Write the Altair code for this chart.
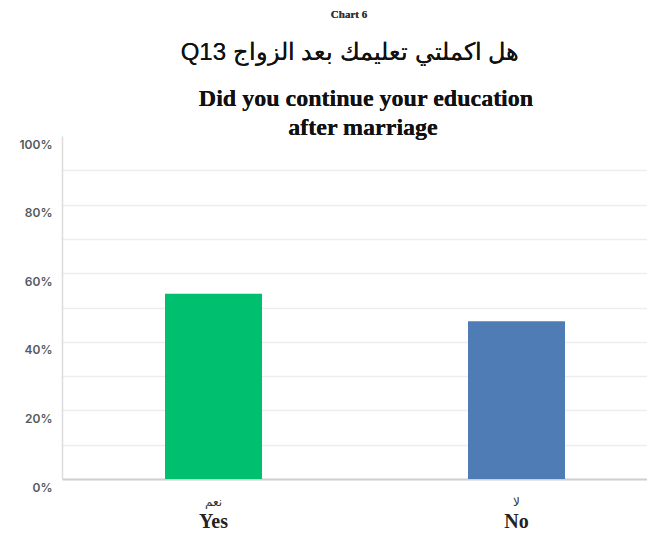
import altair as alt
import pandas as pd

categories = ["Yes", "No"]
arabic_labels = ["نعم", "لا"]
values = [0.54, 0.46]
colors = ["#00BF6F", "#507CB6"]
y_ticks = [0, 0.1, 0.2, 0.3, 0.4, 0.5, 0.6, 0.7, 0.8, 0.9, 1.0]

chart_label = "Chart 6"
title_ar = "Q13 هل اكملتي تعليمك بعد الزواج"
title_en = ["Did you continue your education", "after marriage"]

df = pd.DataFrame({"cat": categories, "ar": arabic_labels, "val": values, "color": colors})

W, H = 580, 343

x = alt.X("cat:N", sort=categories,
          scale=alt.Scale(range=[0, 606], paddingInner=0, paddingOuter=0),
          axis=alt.Axis(title=None, labelAngle=0, ticks=False, labelPadding=32,
                        labelFont="Liberation Serif", labelFontWeight="bold",
                        labelFontSize=20, labelColor="#222222",
                        domainColor="#cfcfcf", domainWidth=2, grid=False))

bars = alt.Chart(df).mark_bar(size=97).encode(
    x=x,
    y=alt.Y("val:Q", scale=alt.Scale(domain=[0, 1]),
            axis=alt.Axis(title=None, values=y_ticks, format=".0%",
                          labelExpr="round(datum.value*100) % 20 == 0 ? datum.label : ''",
                          ticks=False, labelPadding=10, labelOffset=8,
                          labelFont="Inter", labelFontWeight=600, labelFontSize=12,
                          labelColor="#555a61",
                          domainColor="#dcdcdc", domainWidth=1.5,
                          gridColor={"condition": {"test": "datum.value >= 1", "value": "transparent"},
                                     "value": "#ededed"},
                          gridWidth=1.5)),
    color=alt.Color("color:N", scale=None),
)

ar_text = alt.Chart(df).mark_text(font="DejaVu Sans", fontSize=12, color="#333333",
                                  baseline="middle").encode(
    x=alt.X("cat:N", sort=categories),
    y=alt.value(H + 23),
    text="ar:N",
)

t0 = alt.Chart(df).mark_text(font="Liberation Serif", fontWeight="bold", fontSize=11,
                             color="#333333", baseline="alphabetic").encode(
    x=alt.value(287), y=alt.value(-118), text=alt.value(chart_label))
t1 = alt.Chart(df).mark_text(font="Liberation Sans", fontSize=24, color="#111111",
                             baseline="alphabetic").encode(
    x=alt.value(288), y=alt.value(-76), text=alt.value(title_ar))
t2 = alt.Chart(df).mark_text(font="Liberation Serif", fontWeight="bold", fontSize=24,
                             color="#111111", baseline="alphabetic").encode(
    x=alt.value(304), y=alt.value(-30), text=alt.value(title_en[0]))
t3 = alt.Chart(df).mark_text(font="Liberation Serif", fontWeight="bold", fontSize=24,
                             color="#111111", baseline="alphabetic").encode(
    x=alt.value(301), y=alt.value(-1), text=alt.value(title_en[1]))

chart = alt.layer(bars, ar_text, t0, t1, t2, t3).properties(
    width=W, height=H,
    autosize=alt.AutoSizeParams(type="none"),
    padding={"left": 54, "top": 128, "right": 5, "bottom": 54},
).configure_view(stroke=None)

chart.save("out.html", embed_options={"renderer": "svg", "actions": False})
